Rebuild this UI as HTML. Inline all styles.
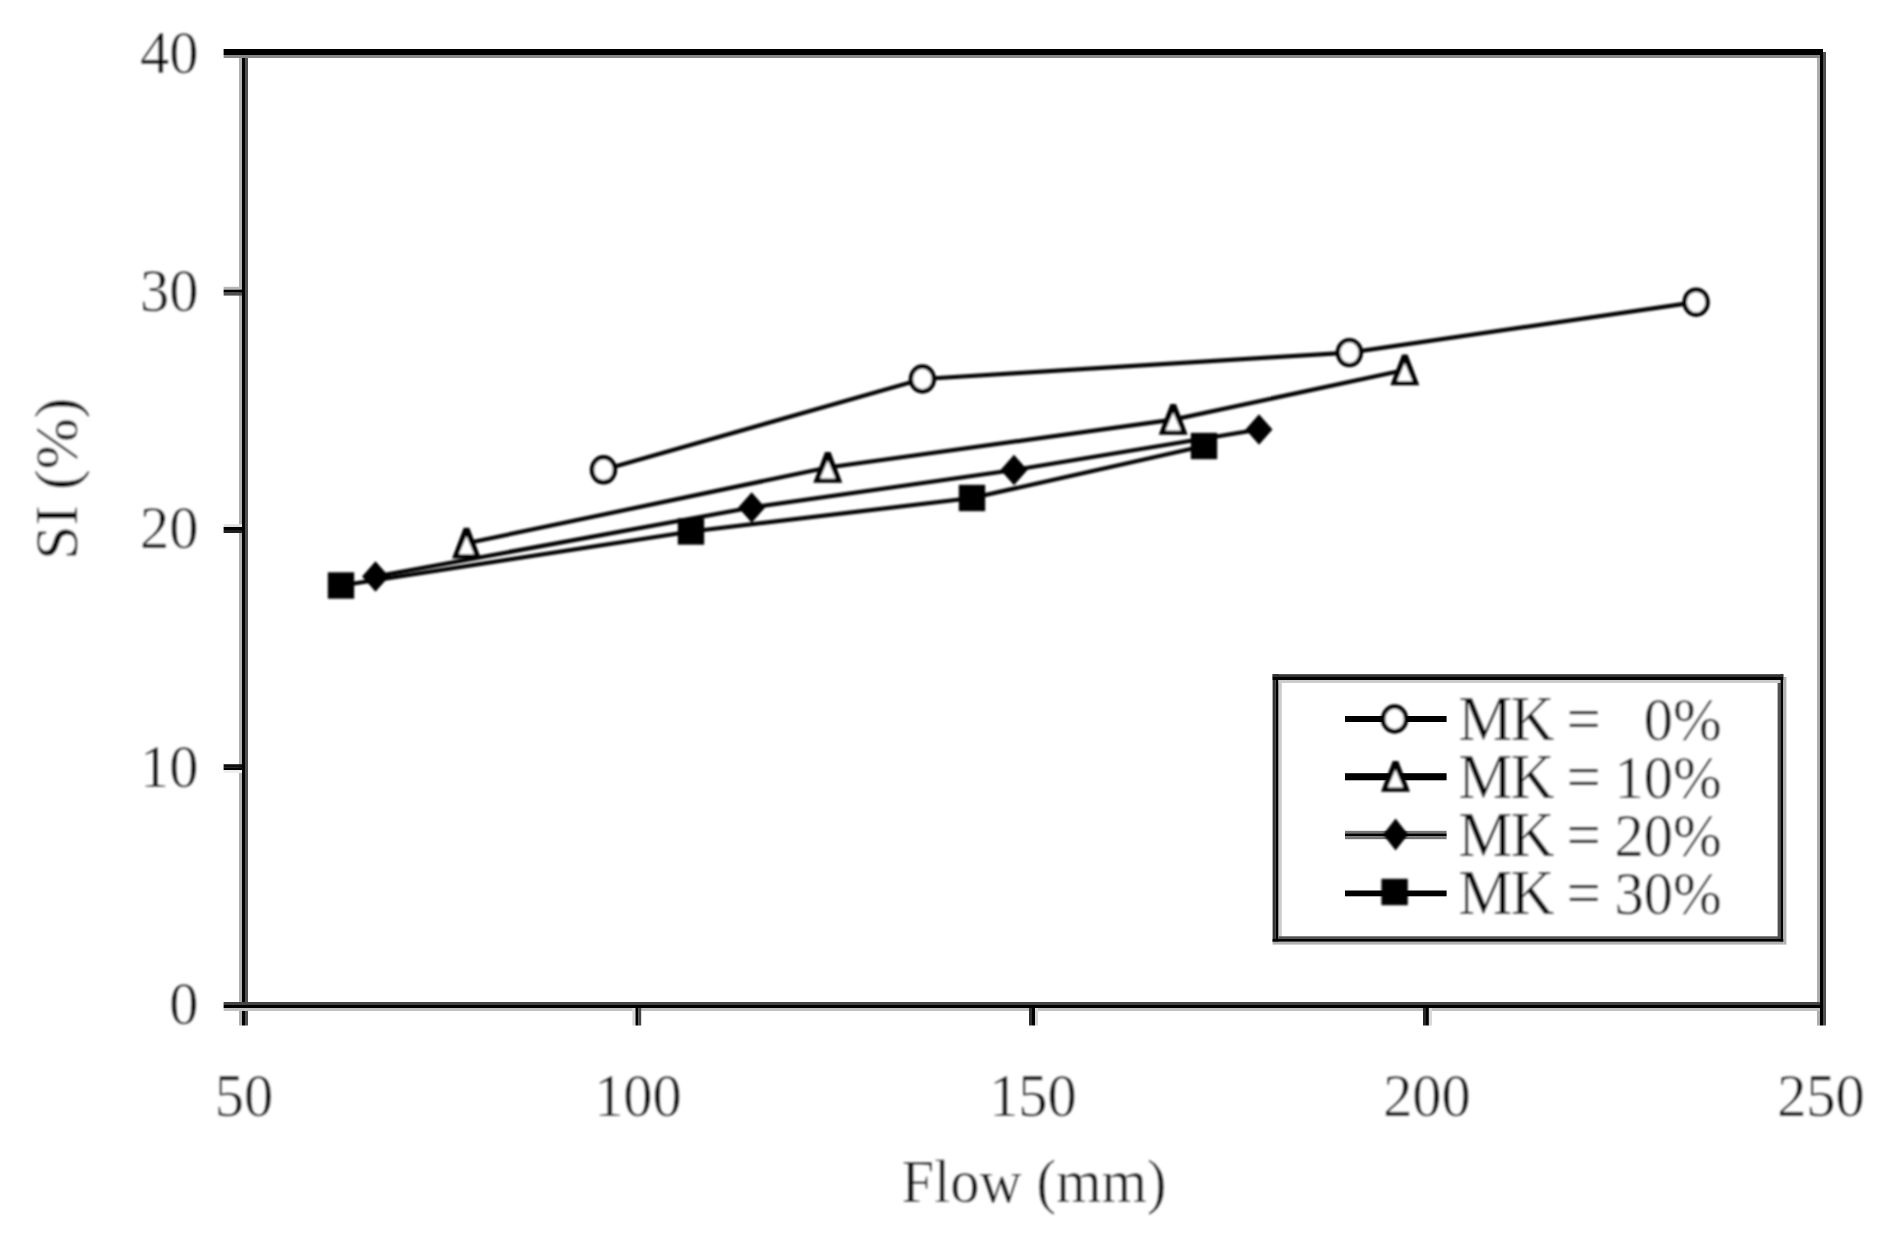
<!DOCTYPE html>
<html lang="en"><head><meta charset="utf-8"><title>SI vs Flow</title>
<style>html,body{margin:0;padding:0;background:#fff;}svg{display:block;}</style></head>
<body><svg width="1903" height="1240" viewBox="0 0 1903 1240">
<defs><filter id="b1" x="0" y="0" width="1903" height="1240" filterUnits="userSpaceOnUse"><feGaussianBlur stdDeviation="0.9"/></filter>
<filter id="b2" x="0" y="0" width="1903" height="1240" filterUnits="userSpaceOnUse"><feGaussianBlur stdDeviation="0.9"/></filter></defs>
<rect width="1903" height="1240" fill="#fff"/>
<rect x="239.00" y="49.00" width="3.00" height="976.50" fill="#b0b0b0"/>
<rect x="242.00" y="49.00" width="3.00" height="976.50" fill="#000"/>
<rect x="245.00" y="49.00" width="3.00" height="976.50" fill="#505050"/>
<rect x="1817.00" y="55.00" width="3.00" height="970.50" fill="#adadad"/>
<rect x="1820.00" y="49.00" width="3.00" height="976.50" fill="#000"/>
<rect x="1823.00" y="52.00" width="3.00" height="973.50" fill="#505050"/>
<rect x="223.60" y="49.00" width="1599.40" height="6.00" fill="#000"/>
<rect x="223.60" y="55.00" width="1596.40" height="3.00" fill="#888"/>
<rect x="223.60" y="1002.00" width="1596.40" height="3.00" fill="#444"/>
<rect x="223.60" y="1005.00" width="1596.40" height="3.00" fill="#000"/>
<rect x="223.60" y="1008.00" width="1596.40" height="3.00" fill="#c0c0c0"/>
<rect x="223.60" y="286.80" width="18.40" height="2.90" fill="#b5b5b5"/>
<rect x="223.60" y="289.70" width="18.40" height="3.00" fill="#000"/>
<rect x="223.60" y="292.70" width="18.40" height="2.90" fill="#505050"/>
<rect x="223.60" y="524.20" width="18.40" height="2.80" fill="#e0e0e0"/>
<rect x="223.60" y="527.00" width="18.40" height="3.00" fill="#000"/>
<rect x="223.60" y="530.00" width="18.40" height="3.00" fill="#202020"/>
<rect x="223.60" y="764.20" width="18.40" height="3.00" fill="#101010"/>
<rect x="223.60" y="767.20" width="18.40" height="2.80" fill="#000"/>
<rect x="223.60" y="770.00" width="18.40" height="3.00" fill="#eeeeee"/>
<rect x="632.30" y="1008.00" width="3.20" height="17.50" fill="#d9d9d9"/>
<rect x="635.50" y="1005.00" width="2.70" height="20.50" fill="#000"/>
<rect x="638.20" y="1008.00" width="3.00" height="17.50" fill="#484848"/>
<rect x="1029.00" y="1008.00" width="3.00" height="17.50" fill="#303030"/>
<rect x="1032.00" y="1005.00" width="3.00" height="20.50" fill="#000"/>
<rect x="1035.00" y="1008.00" width="3.00" height="17.50" fill="#d5d5d5"/>
<rect x="1423.00" y="1008.00" width="3.00" height="17.50" fill="#282828"/>
<rect x="1426.00" y="1005.00" width="2.90" height="20.50" fill="#000"/>
<rect x="1428.90" y="1008.00" width="3.10" height="17.50" fill="#d8d8d8"/>
<g filter="url(#b1)">
<polyline fill="none" stroke="#000" stroke-width="4.20" points="603.5,469.8 922.4,379.0 1349.4,352.6 1696.1,302.2"/>
<polyline fill="none" stroke="#000" stroke-width="4.20" points="466.5,543.3 827.8,467.5 1173.2,419.6 1404.8,370.0"/>
<polyline fill="none" stroke="#000" stroke-width="4.20" points="375.5,576.5 751.7,507.5 1014.0,470.0 1259.0,429.5"/>
<polyline fill="none" stroke="#000" stroke-width="4.20" points="341.0,585.5 691.0,531.5 972.0,498.0 1204.0,446.0"/>
<ellipse cx="603.5" cy="469.8" rx="11.5" ry="12.5" fill="#fff" stroke="#000" stroke-width="4.4"/>
<ellipse cx="922.4" cy="379.0" rx="11.5" ry="12.5" fill="#fff" stroke="#000" stroke-width="4.4"/>
<ellipse cx="1349.4" cy="352.6" rx="11.5" ry="12.5" fill="#fff" stroke="#000" stroke-width="4.4"/>
<ellipse cx="1696.1" cy="302.2" rx="11.5" ry="12.5" fill="#fff" stroke="#000" stroke-width="4.4"/>
<polygon fill="#000" points="463.7,527.8 469.3,527.8 481.0,558.5 452.0,558.5"/>
<polygon fill="#fff" points="466.5,536.3 474.1,554.3 458.9,554.3"/>
<polygon fill="#000" points="825.0,452.0 830.6,452.0 842.3,482.7 813.3,482.7"/>
<polygon fill="#fff" points="827.8,460.5 835.4,478.5 820.2,478.5"/>
<polygon fill="#000" points="1170.4,404.1 1176.0,404.1 1187.7,434.8 1158.7,434.8"/>
<polygon fill="#fff" points="1173.2,412.6 1180.8,430.6 1165.6,430.6"/>
<polygon fill="#000" points="1402.0,354.5 1407.6,354.5 1419.3,385.2 1390.3,385.2"/>
<polygon fill="#fff" points="1404.8,363.0 1412.4,381.0 1397.2,381.0"/>
<polygon fill="#000" points="375.5,561.3 389.0,576.5 375.5,591.7 362.0,576.5"/>
<polygon fill="#000" points="751.7,492.3 765.2,507.5 751.7,522.7 738.2,507.5"/>
<polygon fill="#000" points="1014.0,454.8 1027.5,470.0 1014.0,485.2 1000.5,470.0"/>
<polygon fill="#000" points="1259.0,414.3 1272.5,429.5 1259.0,444.7 1245.5,429.5"/>
<rect x="327.80" y="572.30" width="26.40" height="26.40" fill="#000"/>
<rect x="677.80" y="518.30" width="26.40" height="26.40" fill="#000"/>
<rect x="958.80" y="484.80" width="26.40" height="26.40" fill="#000"/>
<rect x="1190.80" y="432.80" width="26.40" height="26.40" fill="#000"/>
</g>
<rect x="1272.60" y="674.20" width="3.10" height="267.60" fill="#333"/>
<rect x="1275.70" y="674.20" width="2.90" height="267.60" fill="#000"/>
<rect x="1278.60" y="680.00" width="3.20" height="258.90" fill="#ccc"/>
<rect x="1777.60" y="680.00" width="2.80" height="258.90" fill="#505050"/>
<rect x="1780.40" y="674.20" width="2.90" height="267.60" fill="#000"/>
<rect x="1783.30" y="677.00" width="3.10" height="267.60" fill="#b0b0b0"/>
<rect x="1272.60" y="674.20" width="510.70" height="2.80" fill="#333"/>
<rect x="1272.60" y="677.00" width="510.70" height="3.00" fill="#000"/>
<rect x="1278.60" y="680.00" width="501.80" height="3.00" fill="#ccc"/>
<rect x="1278.60" y="936.30" width="501.80" height="2.60" fill="#505050"/>
<rect x="1272.60" y="938.90" width="510.70" height="2.90" fill="#000"/>
<rect x="1272.60" y="941.80" width="510.70" height="2.80" fill="#b0b0b0"/>
<rect x="1345.00" y="716.00" width="101.60" height="6.00" fill="#000"/>
<rect x="1345.00" y="773.20" width="101.60" height="7.10" fill="#000"/>
<rect x="1345.00" y="830.80" width="101.60" height="2.60" fill="#777"/>
<rect x="1345.00" y="833.40" width="101.60" height="3.00" fill="#000"/>
<rect x="1345.00" y="836.40" width="101.60" height="2.80" fill="#777"/>
<rect x="1345.00" y="890.50" width="101.60" height="5.80" fill="#000"/>
<g filter="url(#b1)">
<ellipse cx="1394.6" cy="719.0" rx="11.5" ry="12.5" fill="#fff" stroke="#000" stroke-width="4.4"/>
<polygon fill="#000" points="1392.7,761.0 1398.3,761.0 1410.0,791.7 1381.0,791.7"/>
<polygon fill="#fff" points="1395.5,769.5 1403.1,787.5 1387.9,787.5"/>
<polygon fill="#000" points="1395.6,818.6 1408.1,834.6 1395.6,850.6 1383.1,834.6"/>
<rect x="1381.40" y="878.80" width="26.40" height="26.40" fill="#000"/>
</g>
<g filter="url(#b2)">
<text transform="translate(0,740.0) scale(1,1.045)" font-family="'Liberation Serif', serif" fill="#000" stroke="#fff" stroke-width="0.5"><tspan x="1458.3 1510.4" font-size="61">MK</tspan> <tspan x="1566.5" font-size="61">=</tspan> <tspan x="1643.7" font-size="58.5">0%</tspan></text>
<text transform="translate(0,797.6) scale(1,1.045)" font-family="'Liberation Serif', serif" fill="#000" stroke="#fff" stroke-width="0.5"><tspan x="1458.3 1510.4" font-size="61">MK</tspan> <tspan x="1566.5" font-size="61">=</tspan> <tspan x="1614.5" font-size="58.5">10%</tspan></text>
<text transform="translate(0,856.4) scale(1,1.045)" font-family="'Liberation Serif', serif" fill="#000" stroke="#fff" stroke-width="0.5"><tspan x="1458.3 1510.4" font-size="61">MK</tspan> <tspan x="1566.5" font-size="61">=</tspan> <tspan x="1614.5" font-size="58.5">20%</tspan></text>
<text transform="translate(0,914.0) scale(1,1.045)" font-family="'Liberation Serif', serif" fill="#000" stroke="#fff" stroke-width="0.5"><tspan x="1458.3 1510.4" font-size="61">MK</tspan> <tspan x="1566.5" font-size="61">=</tspan> <tspan x="1614.5" font-size="58.5">30%</tspan></text>
<text transform="translate(198.5,72.5) scale(1,1.06) " text-anchor="end" font-size="58.5" font-family="'Liberation Serif', serif" fill="#000" stroke="#fff" stroke-width="0.5">40</text>
<text transform="translate(198.5,310.5) scale(1,1.06) " text-anchor="end" font-size="58.5" font-family="'Liberation Serif', serif" fill="#000" stroke="#fff" stroke-width="0.5">30</text>
<text transform="translate(198.5,547.6) scale(1,1.06) " text-anchor="end" font-size="58.5" font-family="'Liberation Serif', serif" fill="#000" stroke="#fff" stroke-width="0.5">20</text>
<text transform="translate(198.5,787.0) scale(1,1.06) " text-anchor="end" font-size="58.5" font-family="'Liberation Serif', serif" fill="#000" stroke="#fff" stroke-width="0.5">10</text>
<text transform="translate(198.5,1024.0) scale(1,1.06) " text-anchor="end" font-size="58.5" font-family="'Liberation Serif', serif" fill="#000" stroke="#fff" stroke-width="0.5">0</text>
<text transform="translate(244.0,1115.5) scale(1,1.06) " text-anchor="middle" font-size="58.5" font-family="'Liberation Serif', serif" fill="#000" stroke="#fff" stroke-width="0.5">50</text>
<text transform="translate(638.0,1115.5) scale(1,1.06) " text-anchor="middle" font-size="58.5" font-family="'Liberation Serif', serif" fill="#000" stroke="#fff" stroke-width="0.5">100</text>
<text transform="translate(1033.0,1115.5) scale(1,1.06) " text-anchor="middle" font-size="58.5" font-family="'Liberation Serif', serif" fill="#000" stroke="#fff" stroke-width="0.5">150</text>
<text transform="translate(1427.0,1115.5) scale(1,1.06) " text-anchor="middle" font-size="58.5" font-family="'Liberation Serif', serif" fill="#000" stroke="#fff" stroke-width="0.5">200</text>
<text transform="translate(1821.0,1115.5) scale(1,1.06) " text-anchor="middle" font-size="58.5" font-family="'Liberation Serif', serif" fill="#000" stroke="#fff" stroke-width="0.5">250</text>
<text transform="translate(1034.0,1202.0) scale(1,1.06) " text-anchor="middle" font-size="58.5" font-family="'Liberation Serif', serif" fill="#000" stroke="#fff" stroke-width="0.5">Flow (mm)</text>
<text transform="translate(77.3,478.8) rotate(-90) scale(1.05,1.06)" text-anchor="middle" font-size="58.5" font-family="'Liberation Serif', serif" fill="#000" stroke="#fff" stroke-width="0.5">SI (%)</text>
</g>
</svg></body></html>
